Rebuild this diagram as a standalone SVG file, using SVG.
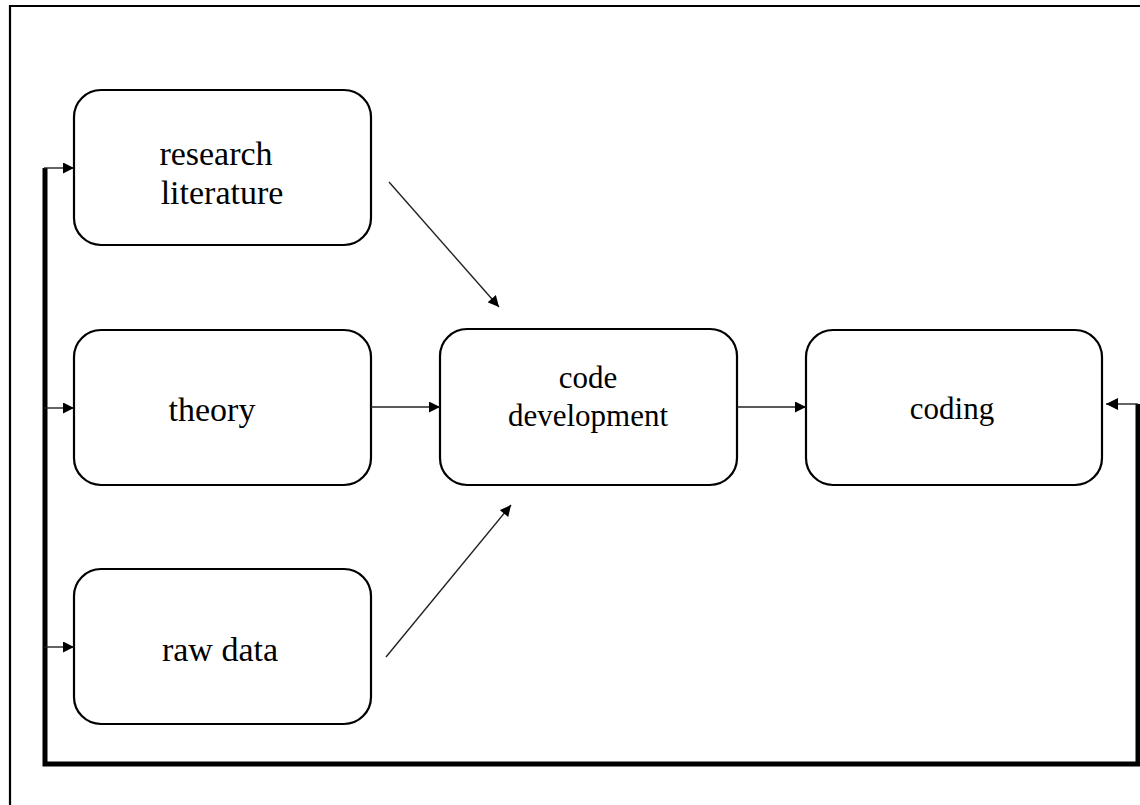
<svg xmlns="http://www.w3.org/2000/svg" width="1140" height="805" viewBox="0 0 1140 805">
  <style>
    .box { fill: #fff; stroke: #000; stroke-width: 2.2; }
    .lbl { font-family: "Liberation Serif", "Times New Roman", serif; font-size: 31px; fill: #000; text-anchor: middle; }
    .big { font-size: 34px; }
    .thin { fill: none; stroke: #222; stroke-width: 1.4; }
    .thick { fill: none; stroke: #000; stroke-width: 5; stroke-linejoin: miter; }
  </style>
  <defs>
    <marker id="arr" viewBox="0 0 10 10" refX="10" refY="5" markerWidth="12" markerHeight="11" markerUnits="userSpaceOnUse" orient="auto">
      <path d="M0,0 L10,5 L0,10 z" fill="#000"/>
    </marker>
    <marker id="arrL" viewBox="0 0 10 10" refX="10" refY="5" markerWidth="13" markerHeight="12" markerUnits="userSpaceOnUse" orient="auto">
      <path d="M0,0 L10,5 L0,10 z" fill="#000"/>
    </marker>
  </defs>
  <rect x="0" y="0" width="1140" height="805" fill="#fff"/>
  <!-- outer frame -->
  <path d="M10,805 L10,6 L1140,6" fill="none" stroke="#000" stroke-width="2.2"/>

  <g id="research-literature">
    <rect class="box" x="74" y="90" width="297" height="155" rx="27"/>
    <text class="lbl big" x="216" y="165">research</text>
    <text class="lbl big" x="222" y="204">literature</text>
  </g>
  <g id="theory">
    <rect class="box" x="74" y="330" width="297" height="155" rx="27"/>
    <text class="lbl big" x="212" y="421">theory</text>
  </g>
  <g id="raw-data">
    <rect class="box" x="74" y="569" width="297" height="155" rx="27"/>
    <text class="lbl big" x="220" y="661">raw data</text>
  </g>
  <g id="code-development">
    <rect class="box" x="440" y="329" width="297" height="156" rx="27"/>
    <text class="lbl" x="588" y="388">code</text>
    <text class="lbl" x="588" y="426">development</text>
  </g>
  <g id="coding">
    <rect class="box" x="806" y="330" width="296" height="155" rx="27"/>
    <text class="lbl" x="952" y="419">coding</text>
  </g>

  <g id="connectors">
    <line class="thin" x1="389" y1="182" x2="499" y2="307" marker-end="url(#arr)"/>
    <line class="thin" x1="371" y1="407" x2="440" y2="407" marker-end="url(#arr)"/>
    <line class="thin" x1="386" y1="657" x2="511" y2="505" marker-end="url(#arr)"/>
    <line class="thin" x1="737" y1="407" x2="806" y2="407" marker-end="url(#arr)"/>
    <!-- feedback loop -->
    <path class="thick" d="M1138,404 L1138,764 L45,764 L45,168"/>
    <line class="thin" x1="1138" y1="404" x2="1106" y2="404" marker-end="url(#arrL)"/>
    <line class="thin" x1="44" y1="168" x2="74" y2="168" marker-end="url(#arr)"/>
    <line class="thin" x1="44" y1="408" x2="74" y2="408" marker-end="url(#arr)"/>
    <line class="thin" x1="44" y1="647" x2="74" y2="647" marker-end="url(#arr)"/>
  </g>
</svg>
